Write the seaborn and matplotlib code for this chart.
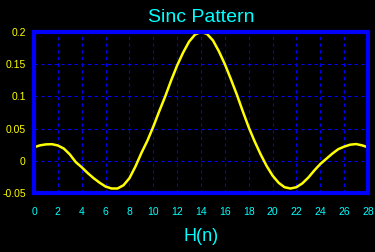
import matplotlib
matplotlib.use("Agg")
import matplotlib.pyplot as plt
import seaborn as sns
import pandas as pd
import numpy as np

n_vals = [0, 0.5, 1, 1.5, 2, 2.5, 3, 3.5, 4, 4.5, 5, 5.5, 6, 6.5, 7, 7.5, 8, 8.5, 9, 9.5,
          10, 10.5, 11, 11.5, 12, 12.5, 13, 13.5, 14, 14.5, 15, 15.5, 16, 16.5, 17, 17.5,
          18, 18.5, 19, 19.5, 20, 20.5, 21, 21.5, 22, 22.5, 23, 23.5, 24, 24.5, 25, 25.5,
          26, 26.5, 27, 27.5, 28]
h_vals = [0.021, 0.024, 0.0255, 0.0258, 0.0238, 0.019, 0.010, -0.002, -0.010, -0.019,
          -0.027, -0.034, -0.040, -0.043, -0.043, -0.038, -0.027, -0.009, 0.012, 0.031,
          0.053, 0.077, 0.100, 0.125, 0.148, 0.168, 0.185, 0.196, 0.200, 0.197,
          0.187, 0.170, 0.150, 0.127, 0.103, 0.077, 0.052, 0.030, 0.010, -0.008,
          -0.023, -0.034, -0.041, -0.043, -0.041, -0.035, -0.026, -0.015, -0.005, 0.003,
          0.011, 0.018, 0.022, 0.025, 0.026, 0.024, 0.021]
x_ticks = [0, 2, 4, 6, 8, 10, 12, 14, 16, 18, 20, 22, 24, 26, 28]
y_ticks = [-0.05, 0, 0.05, 0.1, 0.15, 0.2]
y_labels = ["-0.05", "0", "0.05", "0.1", "0.15", "0.2"]
title = "Sinc Pattern"
xlabel = "H(n)"

df = pd.DataFrame({"n": n_vals, "h": h_vals})

sns.set_theme(style="dark")
plt.rcParams['font.family'] = ['Liberation Sans', 'DejaVu Sans']

W, H = 375, 252
fig = plt.figure(figsize=(W / 100, H / 100), dpi=100, facecolor="black")
ax = fig.add_axes([34 / W, 1 - 193 / H, (368 - 34) / W, (193 - 32) / H])
ax.set_facecolor("black")

sns.lineplot(data=df, x="n", y="h", ax=ax, color="#ffff00", linewidth=1.8, zorder=3)

ax.set_xlim(0, 28)
ax.set_ylim(-0.05, 0.2)
ax.set_xticks(x_ticks)
ax.set_xticklabels([str(t) for t in x_ticks], color="#00ffff", fontsize=7.5)
ax.set_yticks(y_ticks)
ax.set_yticklabels(y_labels, color="#ffff00", fontsize=7.5)
ax.tick_params(axis="x", length=0, pad=10)
ax.tick_params(axis="y", length=0, pad=6)

ax.grid(True, color="#0000ff", linestyle=(0, (3, 3)), linewidth=0.8)
for s in ax.spines.values():
    s.set_visible(True)
    s.set_color("#0000ff")
    s.set_linewidth(3)
    s.set_zorder(4)

ax.set_xlabel(xlabel, color="#00ffff", fontsize=13, labelpad=8)
ax.set_ylabel("")
ax.set_title(title, color="#00ffff", fontsize=14, pad=7)

fig.savefig("out.png", dpi=100, facecolor="black")
